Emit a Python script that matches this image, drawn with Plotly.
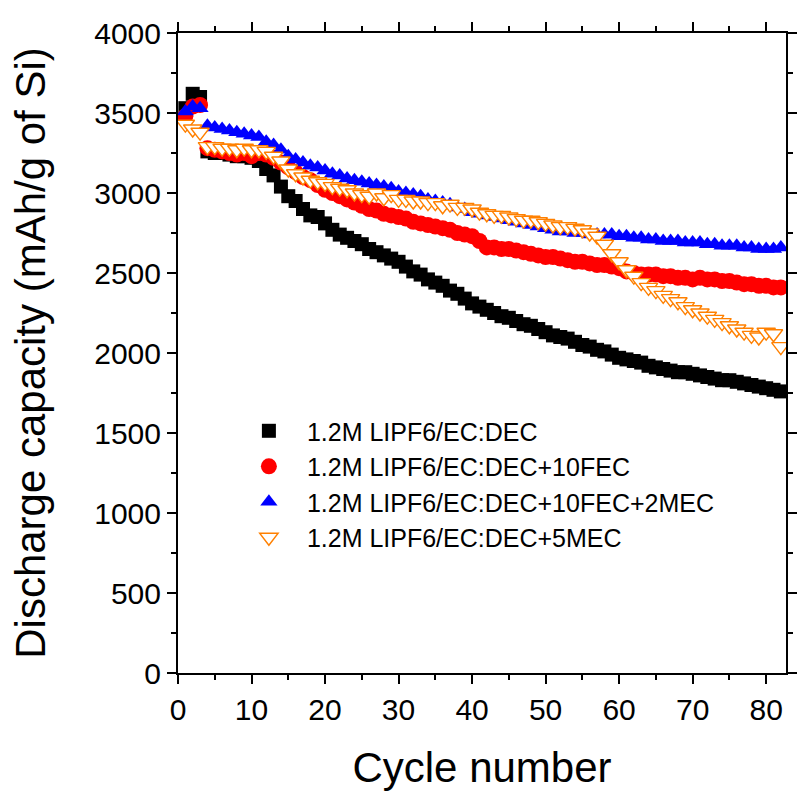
import plotly.graph_objects as go

cycles = list(range(1, 83))

black = [3530, 3620, 3600, 3260, 3250, 3250, 3240, 3230, 3230, 3220,
         3200, 3150, 3110, 3040, 2980, 2950, 2900, 2860, 2850, 2810,
         2770, 2740, 2720, 2700, 2680, 2650, 2630, 2610, 2590, 2570,
         2540, 2510, 2490, 2460, 2440, 2420, 2390, 2370, 2340, 2310,
         2290, 2270, 2250, 2230, 2220, 2200, 2180, 2170, 2150, 2130,
         2110, 2100, 2090, 2070, 2050, 2040, 2020, 2010, 1990, 1970,
         1960, 1950, 1940, 1920, 1910, 1900, 1890, 1880, 1880, 1870,
         1860, 1850, 1840, 1830, 1830, 1820, 1810, 1800, 1790, 1780,
         1770, 1760]

red = [3480, 3540, 3550, 3280, 3270, 3260, 3250, 3240, 3250, 3230,
       3250, 3240, 3220, 3190, 3160, 3130, 3100, 3080, 3050, 3020,
       3000, 2980, 2960, 2940, 2920, 2900, 2890, 2870, 2860, 2850,
       2840, 2820, 2810, 2800, 2790, 2780, 2770, 2750, 2740, 2730,
       2700, 2660, 2660, 2650, 2650, 2640, 2630, 2620, 2610, 2600,
       2600, 2590, 2580, 2570, 2570, 2560, 2550, 2550, 2540, 2530,
       2510, 2500, 2490, 2490, 2490, 2480, 2480, 2470, 2470, 2460,
       2470, 2460, 2460, 2450, 2450, 2440, 2430, 2430, 2420, 2420,
       2410, 2410]

blue = [3510, 3540, 3530, 3420, 3410, 3400, 3390, 3380, 3370, 3360,
        3350, 3320, 3300, 3270, 3230, 3210, 3190, 3170, 3160, 3140,
        3120, 3110, 3090, 3080, 3070, 3060, 3050, 3040, 3030, 3010,
        3000, 2990, 2980, 2960, 2950, 2940, 2930, 2910, 2900, 2880,
        2870, 2860, 2850, 2840, 2830, 2820, 2810, 2800, 2790, 2780,
        2770, 2760, 2760, 2750, 2750, 2740, 2740, 2740, 2740, 2730,
        2730, 2720, 2720, 2710, 2710, 2700, 2700, 2700, 2690, 2690,
        2690, 2680, 2680, 2670, 2670, 2670, 2660, 2660, 2650, 2650,
        2650, 2660]

orange = [3430, 3400, 3380, 3290, 3290, 3280, 3280, 3270, 3280, 3270,
          3270, 3260, 3230, 3200, 3150, 3120, 3100, 3080, 3070, 3060,
          3040, 3030, 3020, 3000, 2990, 2980, 3000, 2970, 2990, 2960,
          2960, 2950, 2950, 2940, 2940, 2920, 2930, 2910, 2910, 2900,
          2880, 2870, 2860, 2860, 2850, 2840, 2830, 2830, 2820, 2810,
          2800, 2790, 2790, 2780, 2770, 2750, 2730, 2680, 2620, 2570,
          2520, 2480, 2440, 2410, 2390, 2360, 2340, 2320, 2290, 2270,
          2250, 2230, 2210, 2190, 2170, 2150, 2130, 2110, 2100, 2130,
          2120, 2040]

names = ["1.2M LIPF6/EC:DEC",
         "1.2M LIPF6/EC:DEC+10FEC",
         "1.2M LIPF6/EC:DEC+10FEC+2MEC",
         "1.2M LIPF6/EC:DEC+5MEC"]

x_ticks = [0, 10, 20, 30, 40, 50, 60, 70, 80]
y_ticks = [0, 500, 1000, 1500, 2000, 2500, 3000, 3500, 4000]

FONT = "Liberation Sans, Arial, sans-serif"

fig = go.Figure()
fig.add_trace(go.Scatter(x=cycles, y=black, mode="markers", name=names[0],
                         marker=dict(symbol="square", size=14, color="black",
                                     line=dict(width=0))))
fig.add_trace(go.Scatter(x=cycles, y=red, mode="markers", name=names[1],
                         marker=dict(symbol="circle", size=16, color="#FF0000",
                                     line=dict(width=0))))
fig.add_trace(go.Scatter(x=cycles, y=blue, mode="markers", name=names[2],
                         marker=dict(symbol="triangle-up", size=15, color="#0000FF",
                                     line=dict(width=0))))
fig.add_trace(go.Scatter(x=cycles, y=orange, mode="markers", name=names[3],
                         marker=dict(symbol="triangle-down", size=16, color="white",
                                     line=dict(width=1.4, color="#FF8000"))))

axis_common = dict(
    showline=True, linecolor="black", linewidth=2, mirror="ticks",
    ticks="outside", ticklen=9, tickwidth=2, tickcolor="black",
    showgrid=False, zeroline=False,
    tickfont=dict(family=FONT, size=30, color="black"),
)

fig.update_xaxes(
    range=[0, 82.7], tickvals=x_ticks, ticktext=[str(v) for v in x_ticks],
    minor=dict(dtick=5, tick0=0, ticks="outside", ticklen=5, tickwidth=2,
               tickcolor="black", showgrid=False),
    title=dict(text="Cycle number", font=dict(family=FONT, size=42, color="black"),
               standoff=28),
    **axis_common)
fig.update_yaxes(
    range=[0, 4000], tickvals=y_ticks, ticktext=[str(v) for v in y_ticks],
    minor=dict(dtick=250, tick0=0, ticks="outside", ticklen=5, tickwidth=2,
               tickcolor="black", showgrid=False),
    title=dict(text="Discharge capacity (mAh/g of Si)",
               font=dict(family=FONT, size=42, color="black"), standoff=36),
    **axis_common)

fig.update_layout(
    width=800, height=798,
    margin=dict(l=178, r=3, t=33, b=125),
    paper_bgcolor="white", plot_bgcolor="white",
    showlegend=True,
    legend=dict(x=0.087, y=0.414, xanchor="left", yanchor="top",
                bgcolor="rgba(0,0,0,0)", borderwidth=0,
                font=dict(family=FONT, size=25, color="black"),
                itemwidth=66, tracegroupgap=0),
)

fig.write_html("out.html")
